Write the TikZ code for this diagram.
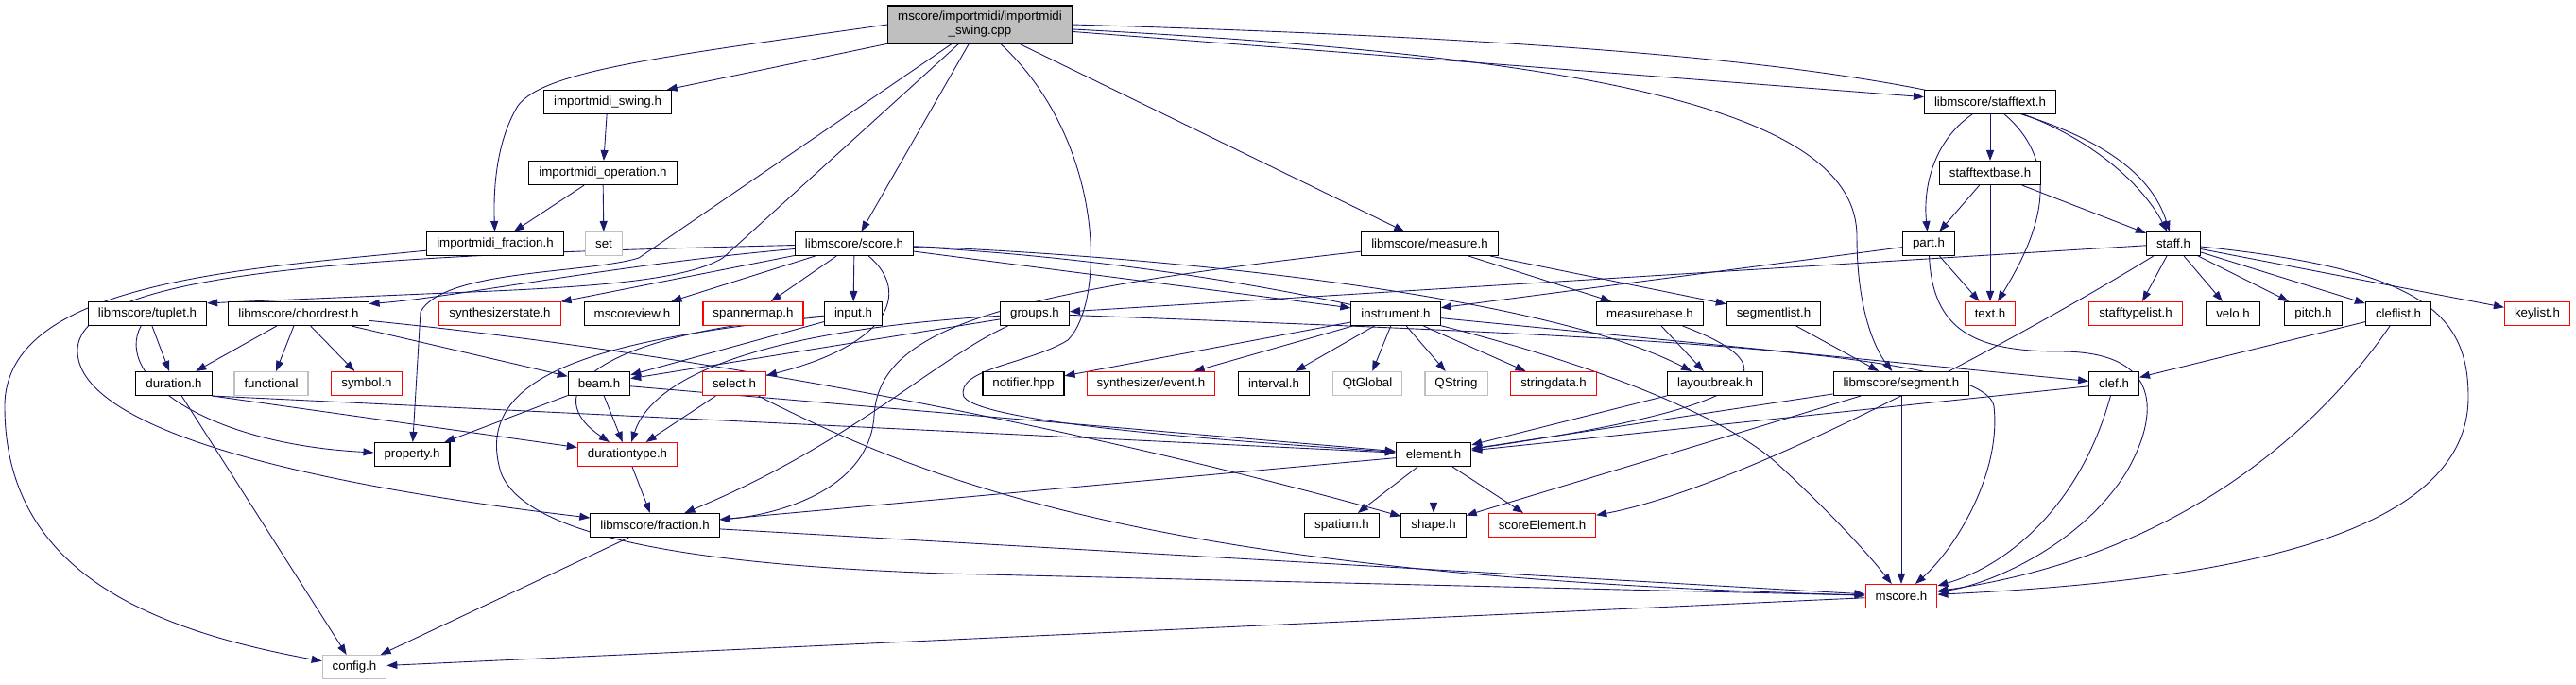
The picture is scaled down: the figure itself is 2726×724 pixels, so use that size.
\documentclass[tikz,border=0pt]{standalone}
\usepackage{fontspec}
\setmainfont{Liberation Sans}
\usetikzlibrary{arrows.meta,backgrounds}
\definecolor{edgeblue}{HTML}{191970}
\definecolor{missred}{HTML}{FF0000}
\definecolor{sysgray}{HTML}{BFBFBF}
\newcommand\hfont{\fontsize{13.3}{15}\selectfont}
\begin{document}
\begin{tikzpicture}[x=1pt, y=-1pt, every node/.style={font=\hfont},
  hdr/.style={draw=black, line width=1.1pt, fill=white, inner xsep=10.5pt, inner ysep=0pt, minimum height=25pt},
  hdrmiss/.style={hdr, draw=missred},
  hdrsys/.style={hdr, draw=sysgray},
  inc/.style={draw=edgeblue, line width=0.9pt, -{Triangle[length=11pt,width=8pt]}}]
\useasboundingbox (0,0) rectangle (2726,724);
% rows, top to bottom
\node[hdr, fill=sysgray, align=center, minimum height=40pt, minimum width=194pt] (root) at (1037,26) {mscore/importmidi/importmidi\\\_swing.cpp};
\node[hdr] (swing) at (643,108) {importmidi\_swing.h};
\node[hdr] (stafftext) at (2106,108) {libmscore/stafftext.h};
\node[hdr] (oper) at (638,183) {importmidi\_operation.h};
\node[hdr] (stbase) at (2106,183) {stafftextbase.h};
\node[hdr] (imfrac) at (524,258) {importmidi\_fraction.h};
\node[hdrsys] (set) at (639,258) {set};
\node[hdr] (score) at (904,258) {libmscore/score.h};
\node[hdr] (measure) at (1513,258) {libmscore/measure.h};
\node[hdr] (part) at (2041,258) {part.h};
\node[hdr] (staff) at (2300,258) {staff.h};
\node[hdr] (tuplet) at (156,332) {libmscore/tuplet.h};
\node[hdr] (chordrest) at (316,332) {libmscore/chordrest.h};
\node[hdrmiss] (synthstate) at (529,332) {synthesizerstate.h};
\node[hdr] (mscoreview) at (669,332) {mscoreview.h};
\node[hdrmiss] (spannermap) at (797,332) {spannermap.h};
\node[hdr] (input) at (903,332) {input.h};
\node[hdr] (groups) at (1095,332) {groups.h};
\node[hdr] (instrument) at (1477,332) {instrument.h};
\node[hdr] (measurebase) at (1746,332) {measurebase.h};
\node[hdr] (segmentlist) at (1877,332) {segmentlist.h};
\node[hdrmiss] (text) at (2106,332) {text.h};
\node[hdrmiss] (stafftypelist) at (2260,332) {stafftypelist.h};
\node[hdr] (velo) at (2363,332) {velo.h};
\node[hdr] (pitch) at (2448,332) {pitch.h};
\node[hdr] (cleflist) at (2538,332) {cleflist.h};
\node[hdrmiss] (keylist) at (2685,332) {keylist.h};
\node[hdr] (duration) at (184,406) {duration.h};
\node[hdrsys] (functional) at (287,406) {functional};
\node[hdrmiss] (symbol) at (388,406) {symbol.h};
\node[hdr] (beam) at (634,406) {beam.h};
\node[hdrmiss] (select) at (777,406) {select.h};
\node[hdr] (notifier) at (1083,406) {notifier.hpp};
\node[hdrmiss] (synthevent) at (1218,406) {synthesizer/event.h};
\node[hdr] (interval) at (1348,406) {interval.h};
\node[hdrsys] (qtglobal) at (1447,406) {QtGlobal};
\node[hdrsys] (qstring) at (1541,406) {QString};
\node[hdrmiss] (stringdata) at (1644,406) {stringdata.h};
\node[hdr] (layoutbreak) at (1815,406) {layoutbreak.h};
\node[hdr] (segment) at (2012,406) {libmscore/segment.h};
\node[hdr] (clef) at (2237,406) {clef.h};
\node[hdr] (property) at (436,481) {property.h};
\node[hdrmiss] (durtype) at (664,481) {durationtype.h};
\node[hdr] (element) at (1517,481) {element.h};
\node[hdr] (fraction) at (693,556) {libmscore/fraction.h};
\node[hdr] (spatium) at (1420,556) {spatium.h};
\node[hdr] (shape) at (1517,556) {shape.h};
\node[hdrmiss] (scoreel) at (1632,556) {scoreElement.h};
\node[hdrmiss] (mscore) at (2012,631) {mscore.h};
\node[hdrsys] (config) at (375,706) {config.h};
\begin{scope}[on background layer]
% root includes
\draw[inc] (root) -- (swing);
\draw[inc] (root.west) .. controls (700,60) and (575,75) .. (548,112) .. controls (525,150) and (522,200) .. (imfrac);
\draw[inc] (root) -- (676,273) .. controls (620,290) and (470,285) .. (445,330) -- (property);
\draw[inc] (root) -- (765,273) .. controls (720,300) and (600,305) .. (450,311) -- (tuplet.10);
\draw[inc] (root) -- (score);
\draw[inc] (root) .. controls (1170,150) and (1170,320) .. (1130,360) .. controls (1090,385) and (1010,390) .. (1020,420) .. controls (1040,450) and (1350,470) .. (element);
\draw[inc] (root) -- (measure);
\draw[inc] (root) -- (stafftext);
\draw[inc] (root.east) .. controls (1950,50) and (2250,100) .. (staff);
\draw[inc] (root) .. controls (1700,60) and (1965,120) .. (1965,250) .. controls (1965,330) and (1985,370) .. (segment);
% importmidi
\draw[inc] (swing) -- (oper);
\draw[inc] (oper) -- (imfrac);
\draw[inc] (oper) -- (set);
\draw[inc] (imfrac) .. controls (250,285) and (5,300) .. (5,430) .. controls (5,600) and (150,665) .. (config);
% stafftext
\draw[inc] (stafftext) -- (stbase);
\draw[inc] (stafftext) .. controls (2045,150) and (2035,200) .. (part);
\draw[inc] (stafftext) .. controls (2190,180) and (2150,260) .. (text);
\draw[inc] (stafftext) .. controls (2220,150) and (2270,200) .. (staff);
\draw[inc] (stbase) -- (part);
\draw[inc] (stbase) -- (text);
\draw[inc] (stbase) -- (staff);
% score
\draw[inc] (score) .. controls (650,280) and (480,315) .. (chordrest.8);
\draw[inc] (score) .. controls (400,270) and (85,285) .. (82,370) .. controls (80,450) and (300,510) .. (fraction);
\draw[inc] (score) -- (synthstate);
\draw[inc] (score) -- (mscoreview);
\draw[inc] (score) -- (spannermap);
\draw[inc] (score) -- (input);
\draw[inc] (score) .. controls (965,310) and (940,365) .. (select);
\draw[inc] (score) -- (instrument);
\draw[inc] (score) .. controls (1300,275) and (1650,320) .. (layoutbreak);
\draw[inc] (score) .. controls (1400,285) and (1780,400) .. (1880,490) .. controls (1940,545) and (1980,590) .. (mscore);
% measure, part, staff
\draw[inc] (measure) .. controls (1050,310) and (930,350) .. (925,440) .. controls (920,520) and (820,545) .. (fraction);
\draw[inc] (measure) -- (measurebase);
\draw[inc] (measure) -- (segmentlist);
\draw[inc] (part) -- (instrument);
\draw[inc] (part) -- (text);
\draw[inc] (part) .. controls (2045,350) and (2090,372) .. (2180,372) .. controls (2290,372) and (2285,440) .. (2250,500) .. controls (2200,580) and (2100,620) .. (mscore);
\draw[inc] (staff) -- (groups);
\foreach \t in {stafftypelist,velo,pitch,cleflist,keylist}
  \draw[inc] (staff) -- (\t);
\draw[inc] (staff) .. controls (2150,350) and (1850,515) .. (scoreel);
\draw[inc] (staff) .. controls (2560,285) and (2612,330) .. (2612,420) .. controls (2612,570) and (2350,615) .. (mscore);
% row 5
\draw[inc] (tuplet) -- (duration);
\draw[inc] (tuplet) .. controls (120,400) and (220,470) .. (property);
\foreach \t in {duration,functional,symbol,beam}
  \draw[inc] (chordrest) -- (\t);
\draw[inc] (chordrest) .. controls (700,370) and (1100,440) .. (shape);
\draw[inc] (input) -- (beam);
\draw[inc] (input) .. controls (650,350) and (560,410) .. (durtype);
\draw[inc] (input) .. controls (620,360) and (500,400) .. (530,500) .. controls (560,580) and (800,600) .. (1000,607) -- (mscore);
\draw[inc] (groups) -- (beam);
\draw[inc] (groups) .. controls (800,350) and (690,400) .. (durtype);
\draw[inc] (groups) .. controls (990,380) and (900,470) .. (fraction);
\draw[inc] (groups) .. controls (1700,355) and (2100,370) .. (2110,430) .. controls (2118,500) and (2070,580) .. (mscore);
\foreach \t in {notifier,synthevent,interval,qtglobal,qstring,stringdata,clef}
  \draw[inc] (instrument) -- (\t);
\draw[inc] (measurebase) -- (layoutbreak);
\draw[inc] (measurebase) .. controls (1900,390) and (1870,430) .. (element);
\draw[inc] (segmentlist) -- (segment);
\draw[inc] (cleflist) -- (clef);
\draw[inc] (cleflist) .. controls (2450,460) and (2300,590) .. (mscore);
% row 6
\draw[inc] (duration.south east) -- (durtype);
\draw[inc] (duration.south east) -- (element);
\draw[inc] (duration) -- (config);
\draw[inc] (beam) -- (property);
\draw[inc] (beam) -- (durtype);
\draw[inc] (beam) -- (element);
\draw[inc] (select) -- (durtype);
\draw[inc] (select) .. controls (1000,520) and (1250,610) .. (mscore);
\draw[inc] (layoutbreak) -- (element);
\draw[inc] (segment) -- (element);
\draw[inc] (segment) -- (shape);
\draw[inc] (segment) -- (mscore);
\draw[inc] (clef) -- (element);
\draw[inc] (clef) .. controls (2200,540) and (2120,600) .. (mscore);
% rows 7 to 9
\draw[inc] (durtype) -- (fraction);
\foreach \t in {spatium,shape,scoreel,fraction}
  \draw[inc] (element) -- (\t);
\draw[inc] (fraction) -- (config);
\draw[inc] (fraction) -- (mscore);
\draw[inc] (mscore) -- (config);
\end{scope}
\end{tikzpicture}
\end{document}
